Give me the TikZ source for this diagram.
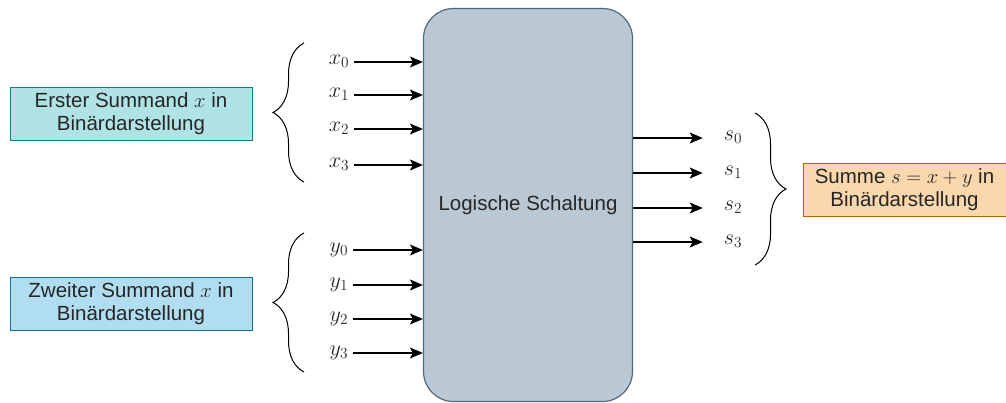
\RequirePackage{fix-cm}
\documentclass[tikz,border=0pt]{standalone}
\usepackage{amsmath}
\usepackage{fontspec}
\setmainfont{Liberation Sans}
\usetikzlibrary{arrows.meta,decorations.pathreplacing,positioning}

\definecolor{logicfill}{HTML}{BAC8D3}
\definecolor{logicline}{HTML}{4E6A82}
\definecolor{erstfill}{HTML}{B0E3E6}
\definecolor{erstline}{HTML}{0E8088}
\definecolor{zweitfill}{HTML}{B1DDF0}
\definecolor{zweitline}{HTML}{10739E}
\definecolor{summfill}{HTML}{FAD7AC}
\definecolor{summline}{HTML}{B46504}

\begin{document}
\begin{tikzpicture}[x=1pt,y=-1pt,% one unit = one pixel of the reference, y downwards
        font=\fontsize{20.5}{23}\selectfont,
        every node/.style={inner sep=0pt,text=black!85},
        bitlabel/.style={anchor=mid,font=\fontsize{22}{24}\selectfont},
        bit/.style={-{Stealth[length=13pt,width=11pt,inset=3pt]},line width=1.4pt},
        infobox/.style={draw,line width=0.8pt,minimum width=242pt,minimum height=53pt,align=center},
        klammer/.style={decoration={brace,amplitude=31pt},decorate,line width=1pt}]
\useasboundingbox (0,0) rectangle (1006,403);

\node[draw=logicline,fill=logicfill,line width=1.2pt,rounded corners=30pt,
      minimum width=209pt,minimum height=393pt] (logic) at (528,205) {Logische Schaltung};

\node[infobox,fill=erstfill,draw=erstline] (xbox) at (131,113.5) {Erster Summand $x$ in\\Binärdarstellung};
\node[infobox,fill=zweitfill,draw=zweitline] (ybox) at (131,303.5) {Zweiter Summand $x$ in\\Binärdarstellung};
\node[infobox,fill=summfill,draw=summline,minimum width=203pt] (sbox) at (904.5,189.5) {Summe $s=x+y$ in\\Binärdarstellung};

\foreach[count=\xi from 0] \yy in {62,95,129,165}{ %\xi is the bit, \yy its height
\node[bitlabel] (x\xi) at (339,\yy) {$x_\xi$};
\draw[bit] ([xshift=5pt]x\xi.mid east) -- (x\xi.mid east -| logic.west);
 }

\foreach[count=\xi from 0] \yy in {250,285,319,353}{
\node[bitlabel] (y\xi) at (339,\yy) {$y_\xi$};
\draw[bit] ([xshift=5pt]y\xi.mid east) -- (y\xi.mid east -| logic.west);
 }

\foreach[count=\xi from 0] \yy in {138,173,208,242}{
\node[bitlabel] (s\xi) at (733,\yy) {$s_\xi$};
\draw[bit] (s\xi.mid west -| logic.east) -- ([xshift=-21pt]s\xi.mid west);
 }

\draw[klammer] (304,182) -- (304,43);
\draw[klammer] (304,372) -- (304,233);
\draw[klammer] (755,113) -- (755,265);

\end{tikzpicture}
\end{document}
